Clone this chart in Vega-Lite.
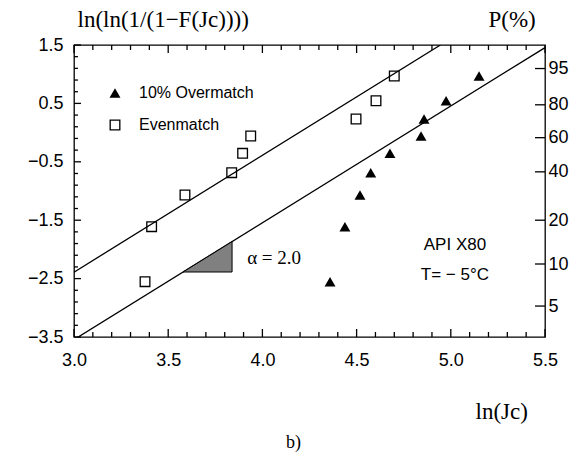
{
  "$schema": "https://vega.github.io/schema/vega-lite/v6.json",
  "width": 471,
  "height": 292,
  "autosize": {"type": "none"},
  "padding": {"left": 74, "top": 45, "right": 37, "bottom": 120},
  "background": "white",
  "config": {
    "view": {"stroke": "black", "strokeWidth": 1.3},
    "font": "Liberation Sans",
    "axis": {
      "domain": false,
      "grid": false,
      "ticks": false,
      "labelFont": "Liberation Sans",
      "labelFontSize": 18,
      "labelColor": "black",
      "labelOverlap": false,
      "labelBound": false,
      "labelFlush": false,
      "titleFont": "Liberation Serif",
      "titleFontWeight": "normal",
      "titleFontSize": 23,
      "titleColor": "black"
    },
    "legend": {
      "labelFont": "Liberation Sans",
      "labelFontSize": 16,
      "labelColor": "black"
    },
    "rule": {"strokeWidth": 1.3, "color": "black"}
  },
  "datasets": {
    "points": [
      {"series": "Evenmatch", "lnJc": 3.377, "lnln": -2.553},
      {"series": "Evenmatch", "lnJc": 3.412, "lnln": -1.611},
      {"series": "Evenmatch", "lnJc": 3.589, "lnln": -1.068},
      {"series": "Evenmatch", "lnJc": 3.837, "lnln": -0.686},
      {"series": "Evenmatch", "lnJc": 3.895, "lnln": -0.355},
      {"series": "Evenmatch", "lnJc": 3.938, "lnln": -0.058},
      {"series": "Evenmatch", "lnJc": 4.497, "lnln": 0.233},
      {"series": "Evenmatch", "lnJc": 4.603, "lnln": 0.546},
      {"series": "Evenmatch", "lnJc": 4.7, "lnln": 0.969},
      {"series": "10% Overmatch", "lnJc": 4.359, "lnln": -2.553},
      {"series": "10% Overmatch", "lnJc": 4.438, "lnln": -1.611},
      {"series": "10% Overmatch", "lnJc": 4.518, "lnln": -1.068},
      {"series": "10% Overmatch", "lnJc": 4.575, "lnln": -0.686},
      {"series": "10% Overmatch", "lnJc": 4.677, "lnln": -0.355},
      {"series": "10% Overmatch", "lnJc": 4.842, "lnln": -0.058},
      {"series": "10% Overmatch", "lnJc": 4.858, "lnln": 0.233},
      {"series": "10% Overmatch", "lnJc": 4.975, "lnln": 0.546},
      {"series": "10% Overmatch", "lnJc": 5.15, "lnln": 0.969}
    ],
    "fits": [
      {"fit": "Evenmatch", "lnJc": 3.0, "lnln": -2.39},
      {"fit": "Evenmatch", "lnJc": 4.945, "lnln": 1.5},
      {"fit": "10% Overmatch", "lnJc": 3.0, "lnln": -3.545},
      {"fit": "10% Overmatch", "lnJc": 5.5, "lnln": 1.455}
    ],
    "slope": [
      {"lnJc": 3.579, "top": -2.387, "base": -2.387},
      {"lnJc": 3.839, "top": -1.867, "base": -2.387}
    ],
    "notes": [
      {"lnJc": 5.022, "lnln": -1.925, "label": "API X80"},
      {"lnJc": 5.022, "lnln": -2.438, "label": "T= − 5°C"}
    ],
    "alpha": [
      {"lnJc": 4.062, "lnln": -2.147, "label": "α = 2.0"}
    ],
    "xMajor": [{"lnJc": 3.0}, {"lnJc": 3.5}, {"lnJc": 4.0}, {"lnJc": 4.5}, {"lnJc": 5.0}, {"lnJc": 5.5}],
    "xMinor": [{"lnJc": 3.1}, {"lnJc": 3.2}, {"lnJc": 3.3}, {"lnJc": 3.4}, {"lnJc": 3.6}, {"lnJc": 3.7}, {"lnJc": 3.8}, {"lnJc": 3.9}, {"lnJc": 4.1}, {"lnJc": 4.2}, {"lnJc": 4.3}, {"lnJc": 4.4}, {"lnJc": 4.6}, {"lnJc": 4.7}, {"lnJc": 4.8}, {"lnJc": 4.9}, {"lnJc": 5.1}, {"lnJc": 5.2}, {"lnJc": 5.3}, {"lnJc": 5.4}],
    "yMajor": [{"lnln": 1.5}, {"lnln": 0.5}, {"lnln": -0.5}, {"lnln": -1.5}, {"lnln": -2.5}, {"lnln": -3.5}],
    "yMinor": [{"lnln": 1.3}, {"lnln": 1.1}, {"lnln": 0.9}, {"lnln": 0.7}, {"lnln": 0.3}, {"lnln": 0.1}, {"lnln": -0.1}, {"lnln": -0.3}, {"lnln": -0.7}, {"lnln": -0.9}, {"lnln": -1.1}, {"lnln": -1.3}, {"lnln": -1.7}, {"lnln": -1.9}, {"lnln": -2.1}, {"lnln": -2.3}, {"lnln": -2.7}, {"lnln": -2.9}, {"lnln": -3.1}, {"lnln": -3.3}],
    "pTicks": [{"P": 95, "lnln": 1.097}, {"P": 80, "lnln": 0.476}, {"P": 60, "lnln": -0.087}, {"P": 40, "lnln": -0.672}, {"P": 20, "lnln": -1.5}, {"P": 10, "lnln": -2.25}, {"P": 5, "lnln": -2.97}]
  },
  "resolve": {"axis": {"x": "independent", "y": "independent"}},
  "layer": [
    {
      "data": {"name": "fits"},
      "mark": {"type": "line", "color": "black", "strokeWidth": 1.3, "clip": true},
      "encoding": {
        "x": {
          "field": "lnJc", "type": "quantitative",
          "scale": {"domain": [3, 5.5], "nice": false, "zero": false},
          "axis": {
            "orient": "top",
            "labels": false,
            "values": [3.0, 5.5],
            "title": "b)",
            "titleFontSize": 18,
            "titleAlign": "center",
            "titleBaseline": "alphabetic",
            "titleAngle": 0,
            "titleX": 219,
            "titleY": 402
          }
        },
        "y": {
          "field": "lnln", "type": "quantitative",
          "scale": {"domain": [-3.5, 1.5], "nice": false, "zero": false},
          "axis": {
            "orient": "right",
            "values": [1.097, 0.476, -0.087, -0.672, -1.5, -2.25, -2.97],
            "labelExpr": "datum.value > 1 ? '95' : datum.value > 0.3 ? '80' : datum.value > -0.3 ? '60' : datum.value > -1 ? '40' : datum.value > -2 ? '20' : datum.value > -2.6 ? '10' : '5'",
            "labelPadding": 3,
            "title": "P(%)",
            "titleAngle": 0,
            "titleAlign": "left",
            "titleBaseline": "alphabetic",
            "titleX": -57,
            "titleY": -19
          }
        },
        "detail": {"field": "fit"}
      }
    },
    {
      "data": {"name": "xMajor"},
      "mark": {"type": "rule"},
      "encoding": {
        "x": {"field": "lnJc", "type": "quantitative", "axis": null},
        "y": {"datum": -3.5, "type": "quantitative", "axis": null},
        "y2": {"datum": -3.363}
      }
    },
    {
      "data": {"name": "xMajor"},
      "mark": {"type": "rule"},
      "encoding": {
        "x": {"field": "lnJc", "type": "quantitative", "axis": null},
        "y": {"datum": 1.5, "type": "quantitative", "axis": null},
        "y2": {"datum": 1.363}
      }
    },
    {
      "data": {"name": "xMinor"},
      "mark": {"type": "rule"},
      "encoding": {
        "x": {"field": "lnJc", "type": "quantitative", "axis": null},
        "y": {"datum": -3.5, "type": "quantitative", "axis": null},
        "y2": {"datum": -3.414}
      }
    },
    {
      "data": {"name": "xMinor"},
      "mark": {"type": "rule"},
      "encoding": {
        "x": {"field": "lnJc", "type": "quantitative", "axis": null},
        "y": {"datum": 1.5, "type": "quantitative", "axis": null},
        "y2": {"datum": 1.414}
      }
    },
    {
      "data": {"name": "yMajor"},
      "mark": {"type": "rule"},
      "encoding": {
        "x": {"datum": 3.0, "type": "quantitative", "axis": null},
        "x2": {"datum": 3.037},
        "y": {"field": "lnln", "type": "quantitative", "axis": null}
      }
    },
    {
      "data": {"name": "yMinor"},
      "mark": {"type": "rule"},
      "encoding": {
        "x": {"datum": 3.0, "type": "quantitative", "axis": null},
        "x2": {"datum": 3.021},
        "y": {"field": "lnln", "type": "quantitative", "axis": null}
      }
    },
    {
      "data": {"name": "pTicks"},
      "mark": {"type": "rule"},
      "encoding": {
        "x": {"datum": 5.447, "type": "quantitative", "axis": null},
        "x2": {"datum": 5.5},
        "y": {"field": "lnln", "type": "quantitative", "axis": null}
      }
    },
    {
      "data": {"name": "slope"},
      "mark": {"type": "area", "fill": "#808080", "stroke": "black", "strokeWidth": 1},
      "encoding": {
        "x": {"field": "lnJc", "type": "quantitative", "axis": null},
        "y": {"field": "top", "type": "quantitative", "axis": null},
        "y2": {"field": "base"}
      }
    },
    {
      "data": {"name": "points"},
      "mark": {"type": "point", "filled": true, "color": "black", "opacity": 1},
      "encoding": {
        "x": {
          "field": "lnJc", "type": "quantitative",
          "axis": {
            "orient": "bottom",
            "values": [3.0, 3.5, 4.0, 4.5, 5.0, 5.5],
            "format": ".1f",
            "labelPadding": 14,
            "title": "ln(Jc)",
            "titleAngle": 0,
            "titleAlign": "left",
            "titleBaseline": "alphabetic",
            "titleX": 401,
            "titleY": 81
          }
        },
        "y": {
          "field": "lnln", "type": "quantitative",
          "axis": {
            "orient": "left",
            "values": [1.5, 0.5, -0.5, -1.5, -2.5, -3.5],
            "format": ".1f",
            "labelPadding": 11,
            "title": "ln(ln(1/(1−F(Jc))))",
            "titleAngle": 0,
            "titleAlign": "left",
            "titleBaseline": "alphabetic",
            "titleX": 3,
            "titleY": -19
          }
        },
        "shape": {
          "field": "series", "type": "nominal",
          "scale": {"domain": ["10% Overmatch", "Evenmatch"], "range": ["triangle-up", "M-1,-1H1V1H-1Z M-0.76,-0.76V0.76H0.76V-0.76Z"]},
          "legend": {
            "orient": "none",
            "legendX": 33,
            "legendY": 40,
            "title": null,
            "padding": 0,
            "symbolSize": 120,
            "symbolFillColor": "black",
            "symbolStrokeWidth": 0,
            "labelOffset": 16,
            "rowPadding": 16
          }
        },
        "size": {"value": 120}
      }
    },
    {
      "data": {"name": "notes"},
      "mark": {"type": "text", "font": "Liberation Sans", "fontSize": 17, "color": "black", "align": "center", "baseline": "middle"},
      "encoding": {
        "x": {"field": "lnJc", "type": "quantitative", "axis": null},
        "y": {"field": "lnln", "type": "quantitative", "axis": null},
        "text": {"field": "label"}
      }
    },
    {
      "data": {"name": "alpha"},
      "mark": {"type": "text", "font": "Liberation Serif", "fontSize": 19, "color": "black", "align": "center", "baseline": "middle"},
      "encoding": {
        "x": {"field": "lnJc", "type": "quantitative", "axis": null},
        "y": {"field": "lnln", "type": "quantitative", "axis": null},
        "text": {"field": "label"}
      }
    }
  ]
}
